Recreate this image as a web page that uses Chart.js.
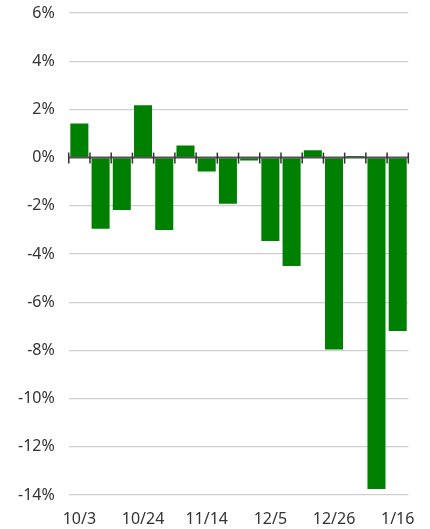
<!DOCTYPE html>
<html>
<head>
<meta charset="utf-8">
<script src="https://cdn.jsdelivr.net/npm/chart.js@4/dist/chart.umd.min.js"></script>
<style>
  html, body { margin: 0; padding: 0; background: #fff; }
  #wrap { width: 430px; height: 529px; }
</style>
</head>
<body>
<div id="wrap"><canvas id="weekly"></canvas></div>
<script>
// weekly dates and % change
var weeks = ['10/3', '10/10', '10/17', '10/24', '10/31', '11/7', '11/14', '11/21',
             '11/28', '12/5', '12/12', '12/19', '12/26', '1/2', '1/9', '1/16'];
var changes = [1.42, -2.95, -2.17, 2.17, -3.0, 0.5, -0.58, -1.92,
               -0.12, -3.46, -4.5, 0.3, -7.96, 0.07, -13.75, -7.2];
var yTicks = [-14, -12, -10, -8, -6, -4, -2, 0, 2, 4, 6];

// zero line with small ticks between the weeks
var zeroLine = {
  id: 'zeroLine',
  afterDatasetsDraw: function(chart) {
    var ctx = chart.ctx;
    var xs = chart.scales.x, ys = chart.scales.y;
    var y0 = ys.getPixelForValue(0);
    var half = (xs.getPixelForValue(1) - xs.getPixelForValue(0)) / 2;
    ctx.save();
    ctx.strokeStyle = '#555';
    ctx.lineWidth = 2;
    ctx.beginPath();
    ctx.moveTo(chart.chartArea.left, y0);
    ctx.lineTo(chart.chartArea.right, y0);
    ctx.stroke();
    ctx.lineWidth = 1.5;
    ctx.strokeStyle = '#333';
    for (var i = 0; i <= weeks.length; i++) {
      var x = xs.getPixelForValue(i) - half;
      ctx.beginPath();
      ctx.moveTo(x, y0 - 5);
      ctx.lineTo(x, y0 + 6);
      ctx.stroke();
    }
    ctx.restore();
  }
};

new Chart(document.getElementById('weekly'), {
  type: 'bar',
  data: {
    labels: weeks,
    datasets: [{
      data: changes,
      backgroundColor: '#008000',
      borderWidth: 0,
      barPercentage: 0.85,
      categoryPercentage: 1
    }]
  },
  options: {
    responsive: true,
    maintainAspectRatio: false,
    animation: false,
    layout: { padding: { top: 13, right: 19, left: 4, bottom: 0 } },
    plugins: { legend: { display: false }, tooltip: { enabled: false } },
    scales: {
      x: {
        grid: { display: false, drawTicks: false },
        border: { display: false },
        afterFit: function(axis) { axis.height = 34; },
        ticks: {
          autoSkip: false,
          maxRotation: 0,
          color: '#333',
          font: { family: 'Noto Sans', size: 16 },
          padding: 15,
          callback: function(v, i) { return i % 3 === 0 ? weeks[i] : ''; }
        }
      },
      y: {
        min: yTicks[0],
        max: yTicks[yTicks.length - 1],
        afterBuildTicks: function(axis) {
          axis.ticks = yTicks.map(function(v) { return { value: v }; });
        },
        afterFit: function(axis) {
          axis.paddingTop = 0;
          axis.paddingBottom = 0;
        },
        grid: { color: '#cfcfcf', lineWidth: 1.2, drawTicks: false },
        border: { display: false },
        ticks: {
          color: '#333',
          font: { family: 'Noto Sans', size: 16 },
          padding: 14,
          callback: function(v) { return v + '%'; }
        }
      }
    }
  },
  plugins: [zeroLine]
});
</script>
</body>
</html>
